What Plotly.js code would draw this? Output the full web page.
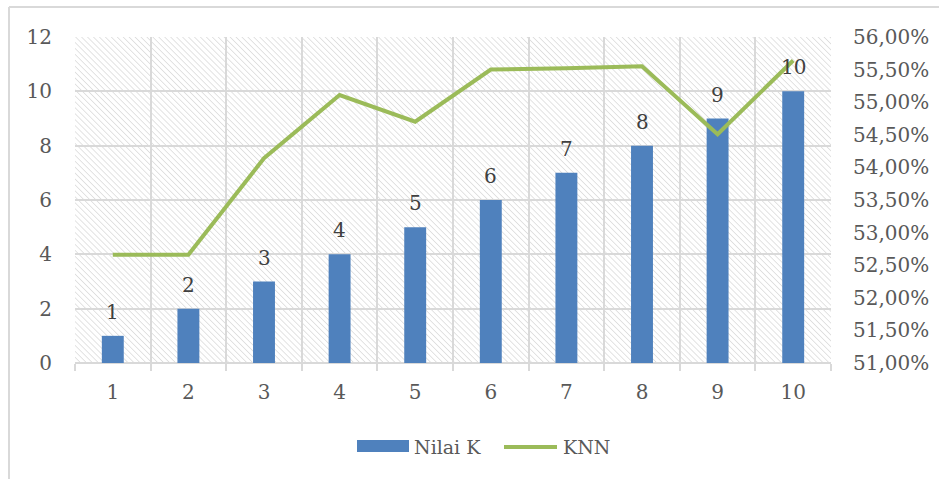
<!DOCTYPE html>
<html>
<head>
<meta charset="utf-8">
<script src="https://cdn.plot.ly/plotly-3.0.1.min.js"></script>
<style>
  html, body { margin: 0; padding: 0; background: #ffffff; overflow: hidden; }
  #chart { width: 939px; height: 479px; }
</style>
</head>
<body>
<div id="chart"></div>
<script>
// K values tested and the KNN accuracy obtained for each
const kLabels = [1, 2, 3, 4, 5, 6, 7, 8, 9, 10];
const nilaiK = [1, 2, 3, 4, 5, 6, 7, 8, 9, 10];
const knnAccuracy = [0.5266, 0.5266, 0.5414, 0.5511, 0.5470, 0.5550, 0.5552, 0.5555, 0.5451, 0.5564];
const seriesNames = ['Nilai K', 'KNN'];

const W = 939, H = 479;
const M = { l: 75, r: 108, t: 37, b: 116 };
const plotW = W - M.l - M.r, plotH = H - M.t - M.b;
// pixel -> paper coordinate helpers for decorations
const px = x => (x - M.l) / plotW;
const py = y => (H - M.b - y) / plotH;

const BLUE = '#4f81bd', GREEN = '#9bbb59', GRID = '#d9d9d9';
const FONT = 'DejaVu Serif, Liberation Serif, serif';

// diagonal hatch used as plot-area fill
const hatchSvg =
  '<svg xmlns="http://www.w3.org/2000/svg" width="' + plotW + '" height="' + plotH + '" preserveAspectRatio="none">' +
  '<defs><pattern id="h" width="4.2" height="4.2" patternUnits="userSpaceOnUse" patternTransform="rotate(-45)">' +
  '<rect width="4.2" height="4.2" fill="#ffffff"/>' +
  '<line x1="0" y1="0" x2="0" y2="4.2" stroke="#d8d8d8" stroke-width="1.4"/>' +
  '</pattern></defs><rect width="100%" height="100%" fill="url(#h)"/></svg>';

const traces = [
  {
    type: 'bar', name: seriesNames[0],
    x: kLabels, y: nilaiK, width: 0.29,
    marker: { color: BLUE, line: { width: 0 } },
    hoverinfo: 'x+y'
  },
  {
    type: 'scatter', mode: 'lines', name: seriesNames[1],
    x: kLabels, y: knnAccuracy, yaxis: 'y2',
    line: { color: GREEN, width: 4 }
  }
];

const boundaries = [];
for (let i = 0; i <= kLabels.length; i++) boundaries.push(i + 0.5);

// value labels above bars
const annotations = kLabels.map((k, i) => ({
  x: k, y: nilaiK[i], xref: 'x', yref: 'y',
  text: String(nilaiK[i]), showarrow: false,
  yanchor: 'bottom', yshift: 10,
  font: { family: FONT, size: 20, color: '#404040' }
}));

// legend drawn as key + text
annotations.push(
  { xref: 'paper', yref: 'paper', x: px(412), y: py(447), xanchor: 'left', yanchor: 'middle',
    text: seriesNames[0], showarrow: false, font: { family: FONT, size: 19, color: '#595959' } },
  { xref: 'paper', yref: 'paper', x: px(561), y: py(447), xanchor: 'left', yanchor: 'middle',
    text: seriesNames[1], showarrow: false, font: { family: FONT, size: 19, color: '#595959' } }
);

const shapes = [
  // chart frame
  { type: 'line', xref: 'paper', yref: 'paper', x0: px(9), x1: px(945), y0: py(7), y1: py(7),
    line: { color: GRID, width: 2 } },
  { type: 'line', xref: 'paper', yref: 'paper', x0: px(9), x1: px(9), y0: py(7), y1: py(485),
    line: { color: GRID, width: 2 } },
  // legend keys
  { type: 'rect', xref: 'paper', yref: 'paper', x0: px(357), x1: px(409), y0: py(452), y1: py(440),
    fillcolor: BLUE, line: { width: 0 } },
  { type: 'line', xref: 'paper', yref: 'paper', x0: px(504), x1: px(557), y0: py(447), y1: py(447),
    line: { color: GREEN, width: 4 } }
];

const layout = {
  width: W, height: H,
  margin: M,
  paper_bgcolor: '#ffffff', plot_bgcolor: '#ffffff',
  separators: ',.',
  showlegend: false,
  font: { family: FONT, size: 20, color: '#595959' },
  xaxis: {
    range: [0.5, 10.5], tickvals: kLabels, ticktext: kLabels.map(String),
    showgrid: false, zeroline: false, showline: false, ticks: '',
    ticklabelstandoff: 15,
    minor: { tickvals: boundaries, showgrid: true, gridcolor: GRID, gridwidth: 2,
             ticks: 'outside', ticklen: 7, tickcolor: GRID, tickwidth: 2 },
    fixedrange: true
  },
  yaxis: {
    range: [0, 12], dtick: 2, tick0: 0,
    showgrid: true, gridcolor: GRID, gridwidth: 2,
    zeroline: true, zerolinecolor: GRID, zerolinewidth: 2,
    ticks: '', ticklabelstandoff: 22, fixedrange: true
  },
  yaxis2: {
    overlaying: 'y', side: 'right',
    range: [0.51, 0.56], dtick: 0.005, tick0: 0.51, tickformat: '.2%',
    showgrid: false, zeroline: false, ticks: '', ticklabelstandoff: 21,
    fixedrange: true
  },
  images: [{
    source: 'data:image/svg+xml;charset=utf-8,' + encodeURIComponent(hatchSvg),
    xref: 'paper', yref: 'paper', x: 0, y: 1, sizex: 1, sizey: 1,
    sizing: 'stretch', xanchor: 'left', yanchor: 'top', layer: 'below'
  }],
  annotations: annotations,
  shapes: shapes
};

Plotly.newPlot('chart', traces, layout, { displayModeBar: false, staticPlot: true });
</script>
</body>
</html>
